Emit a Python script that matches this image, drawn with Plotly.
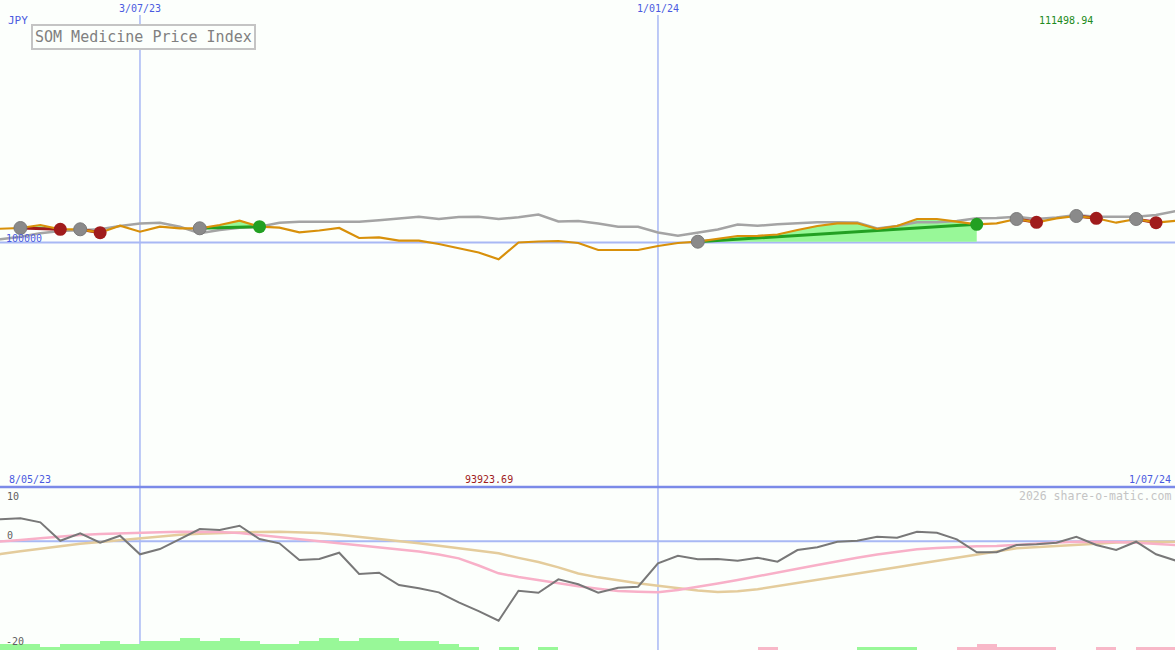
import plotly.graph_objects as go
import pandas as pd

# ---------------- data ----------------
start_date = "2023-05-08"
n_weeks = 61
dates = list(pd.date_range(start_date, periods=n_weeks, freq="7D"))

price = [104768, 104950, 105314, 106406, 104841, 104841, 103604, 106152, 103968, 105788,
         105205, 105205, 106406, 107972, 105788, 105424, 103749, 104404, 105314, 101674,
         101929, 100692, 100692, 99490, 98034, 96396, 93923.69, 100036, 100400, 100582,
         99854, 97306, 97306, 97306, 98762, 99854, 100328, 101492, 102402, 102475,
         102948, 104586, 106042, 107025, 107025, 104950, 106042, 108590, 108590, 107608,
         106661, 107025, 108590, 107389, 108845, 109682, 108845, 107244, 108590, 107244,
         107972]

average = [100582, 101201, 102148, 103385, 104222, 104586, 104841, 106042, 106952, 107244,
           105788, 103385, 104586, 105424, 105788, 107244, 107608, 107608, 107608, 107608,
           108117, 108845, 109428, 108590, 109318, 109428, 108590, 109209, 110228, 107680,
           107862, 106952, 105788, 105788, 103676, 102512, 103676, 104768, 106588, 106152,
           106661, 106952, 107389, 107389, 107316, 105132, 106042, 107389, 107389, 107862,
           108845, 108954, 109428, 108590, 109136, 110046, 109428, 109428, 109428, 110046,
           111498.94]

oscillator = [4.3, 4.05, 4.23, 3.5, 0.11, 1.47, -0.26, 1.03, -2.39, -1.42,
              0.42, 2.26, 2.08, 2.87, 0.42, -0.37, -3.44, -3.26, -2.1, -6.02,
              -5.78, -8.04, -8.65, -9.39, -11.23, -12.83, -14.61, -9.09, -9.46, -6.99,
              -7.9, -9.46, -8.54, -8.36, -4.05, -2.65, -3.31, -3.26, -3.57, -3.02,
              -3.75, -1.6, -1.1, -0.07, 0.11, 0.85, 0.66, 1.77, 1.58, 0.37,
              -2.02, -2.02, -0.68, -0.55, -0.26, 0.85, -0.68, -1.6, -0.07, -2.39,
              -3.57]

signal_fast = [-0.31, -0.07, 0.24, 0.57, 0.88, 1.16, 1.34, 1.49, 1.62, 1.67,
               1.75, 1.75, 1.71, 1.53, 1.16, 0.79, 0.39, 0.06, -0.28, -0.68,
               -1.10, -1.51, -1.88, -2.43, -3.13, -4.45, -5.89, -6.57, -7.18, -7.68,
               -8.26, -8.74, -9.15, -9.30, -9.39, -8.96, -8.41, -7.77, -7.12, -6.39,
               -5.71, -5.04, -4.36, -3.63, -3.02, -2.43, -1.93, -1.47, -1.23, -1.01,
               -0.92, -0.87, -0.63, -0.35, -0.22, -0.07, -0.07, -0.11, -0.26, -0.44,
               -0.68]

signal_slow = [-3.07, -2.34, -1.84, -1.38, -0.90, -0.44, -0.13, 0.20, 0.57, 0.92,
               1.20, 1.40, 1.53, 1.64, 1.73, 1.75, 1.67, 1.53, 1.23, 0.85,
               0.46, 0.02, -0.35, -0.83, -1.29, -1.79, -2.21, -3.04, -3.81, -4.79,
               -5.93, -6.63, -7.23, -7.73, -8.19, -8.69, -9.07, -9.33, -9.18, -8.82,
               -8.26, -7.71, -7.12, -6.57, -6.02, -5.39, -4.77, -4.18, -3.63, -3.07,
               -2.52, -1.88, -1.29, -1.10, -0.96, -0.68, -0.46, -0.22, -0.07, -0.07,
               -0.07]

histogram = [1.1, 1.1, 1.1, 0.55, 1.1, 1.1, 1.66, 1.1, 1.66, 1.66,
             2.2, 1.66, 2.2, 1.66, 1.1, 1.1, 1.66, 2.2, 1.66, 2.2,
             2.2, 1.66, 1.66, 1.1, 0.55, 0, 0.55, 0, 0.55, 0,
             0, 0, 0, 0, 0, 0, 0, 0, 0, -0.55,
             0, 0, 0, 0, 0.55, 0.55, 0.55, 0, 0, -0.55,
             -1.1, -0.55, -0.55, -0.55, 0, 0, -0.55, 0, -0.55, -0.55,
             0]

# trades: (entry week index, exit week index)
trades = [(2, 4), (5, 6), (11, 14), (36, 50), (52, 53), (55, 56), (58, 59)]

title_text = "SOM Medicine Price Index"
currency = "JPY"
base_level = 100000
marker_dates = ["2023-07-03", "2024-01-01"]
marker_labels = ["3/07/23", "1/01/24"]
first_label = "8/05/23"
last_label = "1/07/24"
credit = "2026 share-o-matic.com"
osc_ticks = [10, 0, -20]

# ---------------- styling ----------------
W, H = 1175, 650
BG = "#fcfffc"
LBLUE = "#a8b8f4"
DBLUE = "#7b8ae8"
TXTBLUE = "#4a5ae0"
ORANGE = "#d8900a"
GREY = "#a4a4a4"
LGREEN = "#98f898"
PINK = "#f8b8c8"
DGREEN = "#22a022"
DRED = "#a01c1c"
MONO = "DejaVu Sans Mono"

split = 163 / H  # bottom panel height fraction

x_start = pd.Timestamp(start_date) + pd.Timedelta(days=6.82)
x_end = pd.Timestamp(start_date) + pd.Timedelta(days=419.66)

# main y range so that 100000 sits at 242.6 px of the 487 px panel
px_per = 364.0
y_top = base_level + 242.6 * px_per
y_bot = base_level - (487 - 242.6) * px_per

fig = go.Figure()


def fill_pieces(i0, i1, level):
    xs, ys = [], []
    for i in range(i0, i1 + 1):
        if i > i0:
            a, b = price[i - 1], price[i]
            if (a - level) * (b - level) < 0:
                f = (level - a) / (b - a)
                t = dates[i - 1] + (dates[i] - dates[i - 1]) * f
                xs.append(t)
                ys.append(level)
        xs.append(dates[i])
        ys.append(price[i])
    return xs, ys


# fills
for e, x in trades:
    lvl = price[e]
    xs, ys = fill_pieces(e, x, lvl)
    up = [max(v, lvl) for v in ys]
    dn = [min(v, lvl) for v in ys]
    for vals, col in ((up, LGREEN), (dn, PINK)):
        fig.add_trace(go.Scatter(
            x=xs + xs[::-1], y=vals + [lvl] * len(xs), fill="toself",
            fillcolor=col, line=dict(width=0), mode="lines",
            hoverinfo="skip", xaxis="x", yaxis="y"))

# average line
fig.add_trace(go.Scatter(x=dates, y=average, mode="lines",
                         line=dict(color=GREY, width=2.5), xaxis="x", yaxis="y"))

# trade lines
for e, x in trades:
    col = DGREEN if price[x] > price[e] else DRED
    fig.add_trace(go.Scatter(x=[dates[e], dates[x]], y=[price[e], price[x]],
                             mode="lines", line=dict(color=col, width=3),
                             xaxis="x", yaxis="y"))

# price line
fig.add_trace(go.Scatter(x=dates, y=price, mode="lines",
                         line=dict(color=ORANGE, width=2.2), xaxis="x", yaxis="y"))

# markers
ent_x = [dates[e] for e, x in trades]
ent_y = [price[e] for e, x in trades]
fig.add_trace(go.Scatter(x=ent_x, y=ent_y, mode="markers",
                         marker=dict(size=13, color="#8a8a8a",
                                     line=dict(color="#7a7a7a", width=1)),
                         xaxis="x", yaxis="y"))
ex_x = [dates[x] for e, x in trades]
ex_y = [price[x] for e, x in trades]
ex_c = [DGREEN if price[x] > price[e] else DRED for e, x in trades]
fig.add_trace(go.Scatter(x=ex_x, y=ex_y, mode="markers",
                         marker=dict(size=13, color=ex_c, line=dict(width=0)),
                         xaxis="x", yaxis="y"))

# ---------------- bottom panel ----------------
bar_x = [d + pd.Timedelta(days=3.5) for d in dates]
bar_h = [abs(v) for v in histogram]
bar_c = [LGREEN if v >= 0 else PINK for v in histogram]
fig.add_trace(go.Bar(x=bar_x, y=bar_h, base=-20, marker=dict(color=bar_c, line=dict(width=0)),
                     width=7 * 24 * 3600 * 1000, xaxis="x2", yaxis="y2"))

fig.add_trace(go.Scatter(x=dates, y=signal_slow, mode="lines",
                         line=dict(color="#e4cc9c", width=2.5), xaxis="x2", yaxis="y2"))
fig.add_trace(go.Scatter(x=dates, y=signal_fast, mode="lines",
                         line=dict(color="#f8b0c8", width=2.5), xaxis="x2", yaxis="y2"))
fig.add_trace(go.Scatter(x=dates, y=oscillator, mode="lines",
                         line=dict(color="#787878", width=2), xaxis="x2", yaxis="y2"))

# ---------------- shapes ----------------
shapes = []
for d in marker_dates:
    shapes.append(dict(type="line", xref="x", yref="paper", x0=d, x1=d,
                       y0=0, y1=1 - 15 / H, line=dict(color=LBLUE, width=1.5), layer="below"))
shapes.append(dict(type="line", xref="paper", yref="y", x0=0, x1=1, y0=base_level,
                   y1=base_level, line=dict(color=LBLUE, width=2), layer="below"))
shapes.append(dict(type="line", xref="paper", yref="y2", x0=0, x1=1, y0=0, y1=0,
                   line=dict(color=LBLUE, width=2), layer="below"))
shapes.append(dict(type="line", xref="paper", yref="paper", x0=0, x1=1, y0=split,
                   y1=split, line=dict(color=DBLUE, width=2.5), layer="above"))


# ---------------- annotations ----------------
def px(x):
    return x / W


def py(y):
    return 1 - y / H


ann = []


def txt(t, x, y, color, size=10, xa="left"):
    ann.append(dict(text=t, x=px(x), y=py(y), xref="paper", yref="paper",
                    xanchor=xa, yanchor="middle", showarrow=False,
                    font=dict(family=MONO, size=size, color=color)))


txt(currency, 6, 20, TXTBLUE, 11)
for d, lab in zip(marker_dates, marker_labels):
    ann.append(dict(text=lab, x=d, xref="x", y=py(9), yref="paper", xanchor="center",
                    yanchor="middle", showarrow=False,
                    font=dict(family=MONO, size=10, color=TXTBLUE)))
txt(f"{max(average):.2f}", 1066, 20, "#208a20", 10, "center")
txt(f"{min(price):.2f}", 489, 479, "#a01c1c", 10, "center")
txt(first_label, 7, 479, TXTBLUE, 10)
txt(last_label, 1173, 479, TXTBLUE, 10, "right")
txt(credit, 1173, 496, "#c4c4c4", 11.5, "right")
txt(f"{base_level}", 4, 238, TXTBLUE, 10)
txt(str(osc_ticks[0]), 5, 496, "#606060", 10)
txt(str(osc_ticks[1]), 5, 535, "#606060", 10)
txt(str(osc_ticks[2]), 4, 641, "#606060", 10)

ann.append(dict(text=title_text, x=px(31), y=py(24), xref="paper", yref="paper",
                xanchor="left", yanchor="top", showarrow=False,
                bordercolor="#c4c4c4", borderwidth=2, borderpad=2, bgcolor=BG,
                font=dict(family=MONO, size=15, color="#808080")))

fig.update_layout(
    width=W, height=H, margin=dict(l=0, r=0, t=0, b=0),
    paper_bgcolor=BG, plot_bgcolor=BG, showlegend=False, bargap=0,
    shapes=shapes, annotations=ann, hovermode=False,
    xaxis=dict(domain=[0, 1], range=[x_start, x_end], anchor="y", visible=False,
               showgrid=False, zeroline=False),
    yaxis=dict(domain=[split, 1], range=[y_bot, y_top], visible=False,
               showgrid=False, zeroline=False),
    xaxis2=dict(domain=[0, 1], range=[x_start, x_end], anchor="y2", matches="x",
                visible=False, showgrid=False, zeroline=False),
    yaxis2=dict(domain=[0, split], range=[-20, 10], visible=False,
                showgrid=False, zeroline=False),
)

fig.write_html("out.html",
               config={"displayModeBar": False, "staticPlot": True},
               post_script="document.body.style.margin='0';"
                           "document.body.style.padding='0';"
                           "document.body.style.overflow='hidden';"
                           "document.body.style.background='" + BG + "';")
